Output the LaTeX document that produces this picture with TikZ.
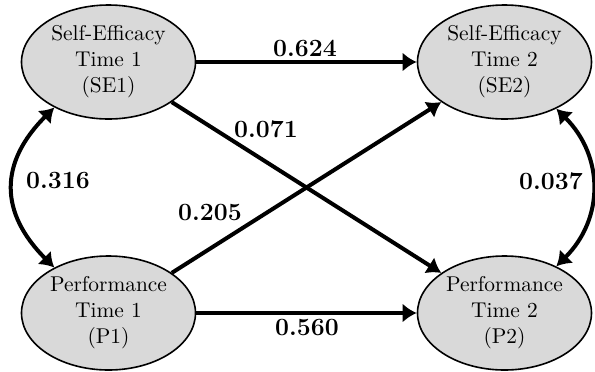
\documentclass[tikz,border=0pt]{standalone}
\usetikzlibrary{shapes.geometric,arrows.meta}
\definecolor{nodegray}{RGB}{217,217,217}
\begin{document}
\begin{tikzpicture}[x=0.5pt,y=-0.5pt,
  latent/.style={ellipse,draw=black,line width=0.8pt,fill=nodegray,inner sep=0pt,
    minimum width=87pt,minimum height=57pt,align=center,
    font=\fontsize{10.7}{13}\selectfont},
  path/.style={line width=2pt,-{Latex[length=7pt,width=9.5pt]}},
  cov/.style={line width=2pt,{Latex[length=7pt,width=9.5pt]}-{Latex[length=7pt,width=9.5pt]}},
  coef/.style={font=\fontsize{12.4}{15}\selectfont\bfseries,inner sep=1pt}]
\useasboundingbox (0,0) rectangle (595,371);
\node[latent] (SE1) at (108.5,62) {Self-Efficacy\\Time 1\\(SE1)};
\node[latent] (SE2) at (504.5,62) {Self-Efficacy\\Time 2\\(SE2)};
\node[latent] (P1) at (108.5,313) {Performance\\Time 1\\(P1)};
\node[latent] (P2) at (504.5,313) {Performance\\Time 2\\(P2)};
\draw[path] (SE1) -- (SE2);
\draw[path] (P1) -- (P2);
\draw[path] (SE1) -- (P2);
\draw[path] (P1) -- (SE2);
\draw[cov] (SE1.220) to[bend right=45,looseness=1.25] (P1.140);
\draw[cov] (SE2.318) to[bend left=45,looseness=1.1] (P2.42);
\node[coef] (c1) at (305,48) {0.624};
\node[coef] (c2) at (307,328) {0.560};
\node[coef] (c3) at (266,129) {0.071};
\node[coef] (c4) at (210,213) {0.205};
\node[coef] (c5) at (58,181) {0.316};
\node[coef] (c6) at (551,181) {0.037};
\end{tikzpicture}
\end{document}
